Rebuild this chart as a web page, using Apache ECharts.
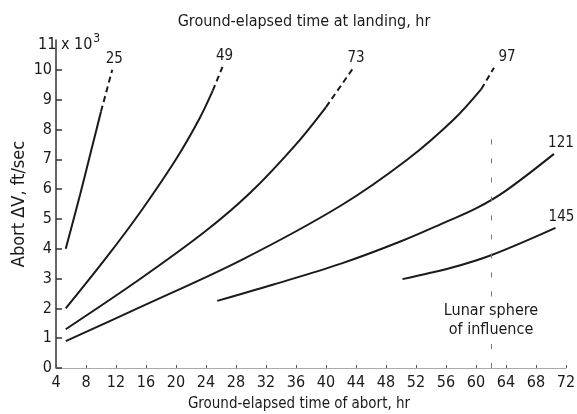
<!DOCTYPE html>
<html><head><meta charset="utf-8">
<script src="https://cdn.jsdelivr.net/npm/echarts@6/dist/echarts.min.js"></script>
<style>html,body{margin:0;padding:0;background:#fff}#c{width:577px;height:414px}</style>
</head><body><div id="c"></div>
<script>
// ---- data ----
const xTickValues = [4,8,12,16,20,24,28,32,36,40,44,48,52,56,60,64,68,72];
const yTickValues = [0,1,2,3,4,5,6,7,8,9,10];
const landingTimes = ['25','49','73','97','121','145'];
// abort time (hr), abort dV (x10^3 ft/sec)
const solid25  = [[5.3,4.0],[7.2,5.8],[8.7,7.3],[10.0,8.6]];
const dashed25 = [[10.0,8.6],[11.5,10.0]];
const solid49  = [[5.3,2.0],[10.7,3.7],[15.3,5.25],[20.0,7.0],[23.1,8.35],[24.9,9.3]];
const dashed49 = [[24.9,9.3],[26.2,10.1]];
const solid73  = [[5.3,1.3],[15.3,3.0],[24.0,4.6],[30.0,5.9],[36.0,7.5],[40.0,8.75]];
const dashed73 = [[40.0,8.75],[43.6,10.05]];
const solid97  = [[5.3,0.9],[15.3,2.05],[28.7,3.62],[42.0,5.45],[50.9,7.0],[57.1,8.35],[60.7,9.35]];
const dashed97 = [[60.7,9.35],[62.4,10.07]];
const solid121 = [[25.5,2.25],[33.0,2.8],[42.0,3.5],[50.0,4.25],[56.0,4.9],[60.0,5.35],[64.0,5.95],[70.4,7.18]];
const solid145 = [[50.2,2.98],[56.7,3.36],[62.0,3.78],[70.6,4.7]];
const lunarX = 62;
const lunarText = 'Lunar sphere\nof influence';

const FONT = '"Liberation Sans Narrow","DejaVu Sans Condensed","Roboto Condensed","DejaVu Sans",sans-serif';
const INK = '#1a1a1a';

const curves = [
  {name: landingTimes[0], solid: solid25, dashed: dashed25, off: [2, 0]},
  {name: landingTimes[1], solid: solid49, dashed: dashed49, off: [2, 0]},
  {name: landingTimes[2], solid: solid73, dashed: dashed73, off: [3, 0]},
  {name: landingTimes[3], solid: solid97, dashed: dashed97, off: [13, 0]},
  {name: landingTimes[4], solid: solid121, dashed: null, off: [7, 0]},
  {name: landingTimes[5], solid: solid145, dashed: null, off: [6, 0]}
];

const series = [];
curves.forEach(c => {
  const last = (c.dashed || c.solid)[(c.dashed || c.solid).length - 1];
  series.push({
    type: 'line', name: c.name + ' solid', data: c.solid, smooth: 0.35,
    showSymbol: false, symbol: 'none', silent: true,
    lineStyle: {color: INK, width: 2}
  });
  if (c.dashed) {
    series.push({
      type: 'line', name: c.name + ' dashed', data: c.dashed, smooth: false,
      showSymbol: false, symbol: 'none', silent: true,
      lineStyle: {color: INK, width: 2, type: [6, 4]}
    });
  }
  series[series.length - 1].markPoint = {
    symbol: 'circle', symbolSize: 0, silent: true,
    data: [{coord: last, label: {show: true, formatter: c.name, position: 'top', distance: 3,
      offset: c.off, color: INK, fontFamily: FONT, fontSize: 15}}]
  };
});

// lunar sphere of influence marker
series.push({
  type: 'line', name: 'lunar', data: [], silent: true,
  markLine: {
    symbol: 'none', silent: true, label: {show: false},
    lineStyle: {color: '#777', width: 1, type: [5, 14]},
    data: [
      [{coord: [lunarX, 0]}, {coord: [lunarX, 1.0]}],
      [{coord: [lunarX, 2.4]}, {coord: [lunarX, 7.8]}]
    ]
  },
  markPoint: {
    symbol: 'circle', symbolSize: 0, silent: true,
    data: [{coord: [lunarX, 1.6], label: {show: true, formatter: lunarText, position: 'inside',
      color: INK, fontFamily: FONT, fontSize: 16, lineHeight: 19, align: 'center'}}]
  }
});

const chart = echarts.init(document.getElementById('c'), null, {renderer: 'canvas'});
chart.setOption({
  animation: false,
  backgroundColor: '#fff',
  grid: {left: 56, right: 11, top: 40, bottom: 46, containLabel: false, outerBoundsMode: 'none'},
  xAxis: {
    type: 'value', min: 4, max: 72, interval: 4,
    name: 'Ground-elapsed time of abort, hr', nameLocation: 'middle', nameGap: 29,
    nameTextStyle: {color: INK, fontFamily: FONT, fontSize: 15, padding: [0, 24, 0, 0]},
    axisLine: {show: true, lineStyle: {color: '#aaa', width: 1}},
    axisTick: {show: true, inside: true, length: 3, lineStyle: {color: '#555'}, customValues: xTickValues},
    axisLabel: {color: INK, fontFamily: FONT, fontSize: 16, margin: 7, customValues: xTickValues},
    splitLine: {show: false}
  },
  yAxis: {
    type: 'value', min: 0, max: 11, interval: 1,
    name: 'Abort \u0394V, ft/sec', nameLocation: 'middle', nameGap: 28, nameRotate: 90,
    nameMoveOverlap: false,
    nameTextStyle: {color: INK, fontFamily: FONT, fontSize: 18},
    axisLine: {show: true, lineStyle: {color: '#333', width: 1.5}},
    axisTick: {show: true, inside: true, length: 6, lineStyle: {color: '#333', width: 1.5}, customValues: yTickValues},
    axisLabel: {color: INK, fontFamily: FONT, fontSize: 16, margin: 4, customValues: yTickValues},
    splitLine: {show: false}
  },
  series: series
});

const topLeft = chart.convertToPixel({gridIndex: 0}, [4, 11]);
chart.setOption({
  graphic: [
    {type: 'text', x: 304, y: 22, style: {text: 'Ground-elapsed time at landing, hr',
      fill: INK, font: '16px ' + FONT, align: 'center', verticalAlign: 'middle'}},
    {type: 'text', x: topLeft[0] - 18, y: topLeft[1] + 5, style: {
      text: '{a|11 x 10}{s|3}', verticalAlign: 'middle',
      rich: {a: {fontFamily: FONT, fontSize: 16, fill: INK, color: INK},
             s: {fontFamily: FONT, fontSize: 12, fill: INK, color: INK, verticalAlign: 'top', padding: [0, 0, 12, 1]}}
    }}
  ]
});
</script>
</body></html>
